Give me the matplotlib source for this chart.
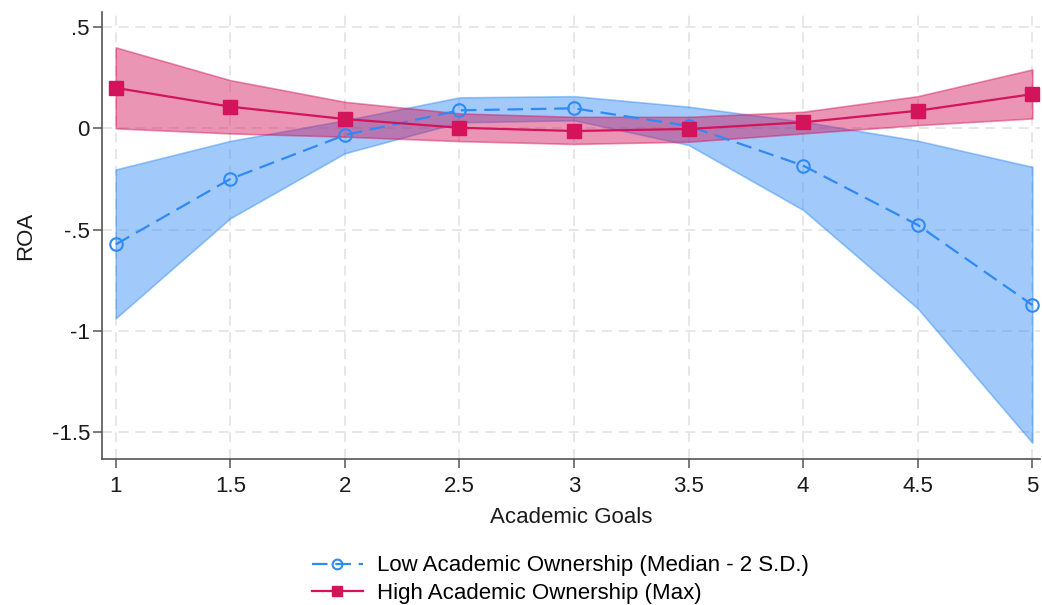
import numpy as np
import matplotlib.pyplot as plt

plt.rcParams['font.family'] = ['Liberation Sans', 'DejaVu Sans']

# Academic Goals
x = [1, 1.5, 2, 2.5, 3, 3.5, 4, 4.5, 5]

# Low Academic Ownership (Median - 2 S.D.)
low_mean = [-0.573, -0.250, -0.033, 0.089, 0.099, 0.012, -0.184, -0.477, -0.872]
low_hi = [-0.203, -0.062, 0.040, 0.153, 0.159, 0.107, 0.033, -0.061, -0.190]
low_lo = [-0.938, -0.444, -0.123, 0.030, 0.040, -0.082, -0.403, -0.889, -1.552]

# High Academic Ownership (Max)
high_mean = [0.200, 0.107, 0.046, 0.003, -0.013, -0.003, 0.030, 0.087, 0.169]
high_hi = [0.400, 0.238, 0.131, 0.074, 0.057, 0.057, 0.082, 0.159, 0.291]
high_lo = [0.000, -0.025, -0.041, -0.063, -0.077, -0.066, -0.025, 0.016, 0.049]

xticks = [1, 1.5, 2, 2.5, 3, 3.5, 4, 4.5, 5]
xticklabels = ['1', '1.5', '2', '2.5', '3', '3.5', '4', '4.5', '5']
yticks = [0.5, 0, -0.5, -1, -1.5]
yticklabels = ['.5', '0', '-.5', '-1', '-1.5']

blue = '#2f8af5'
red = '#d4145a'
fs = 16

fig = plt.figure(figsize=(10.42, 6.05), dpi=100)
ax = fig.add_axes([0.0976, 0.2408, 0.9004, 0.7392])

ax.fill_between(x, low_lo, low_hi, color=blue, alpha=0.45, lw=1.2, zorder=2)
ax.fill_between(x, high_lo, high_hi, color=red, alpha=0.45, lw=1.2, zorder=3)

ax.plot(x, low_mean, color=blue, lw=1.6, dashes=(7, 3.5), marker='o', ms=9,
        mfc='none', mec=blue, mew=1.5, zorder=4,
        label='Low Academic Ownership (Median - 2 S.D.)')
ax.plot(x, high_mean, color=red, lw=1.6, marker='s', ms=10, mfc=red, mec=red,
        zorder=5, label='High Academic Ownership (Max)')

ax.set_xlim(0.939, 5.033)
ax.set_ylim(-1.634, 0.574)
ax.set_xticks(xticks)
ax.set_xticklabels(xticklabels)
ax.set_yticks(yticks)
ax.set_yticklabels(yticklabels)
ax.grid(True, color='#e3e3e3', ls=(0, (6, 4)), lw=1.2, zorder=0)
ax.set_axisbelow(True)

for s in ['top', 'right']:
    ax.spines[s].set_visible(False)
for s in ['left', 'bottom']:
    ax.spines[s].set_color('#555555')
    ax.spines[s].set_linewidth(1.2)

ax.tick_params(axis='both', labelsize=fs, length=6.5, width=1.1, color='#555555',
               labelcolor='#1a1a1a')
ax.tick_params(axis='x', pad=5.5)
ax.tick_params(axis='y', pad=2)

ax.set_xlabel('Academic Goals', fontsize=fs, color='#1a1a1a', labelpad=7)
ax.set_ylabel('ROA', fontsize=fs, color='#1a1a1a', labelpad=11)

ax.legend(loc='upper center', bbox_to_anchor=(0.4886, -0.195), frameon=False,
          fontsize=fs, handlelength=2.3, handletextpad=0.62, labelspacing=0.3,
          markerscale=0.78, borderaxespad=0)

fig.savefig('out.png', dpi=100)
